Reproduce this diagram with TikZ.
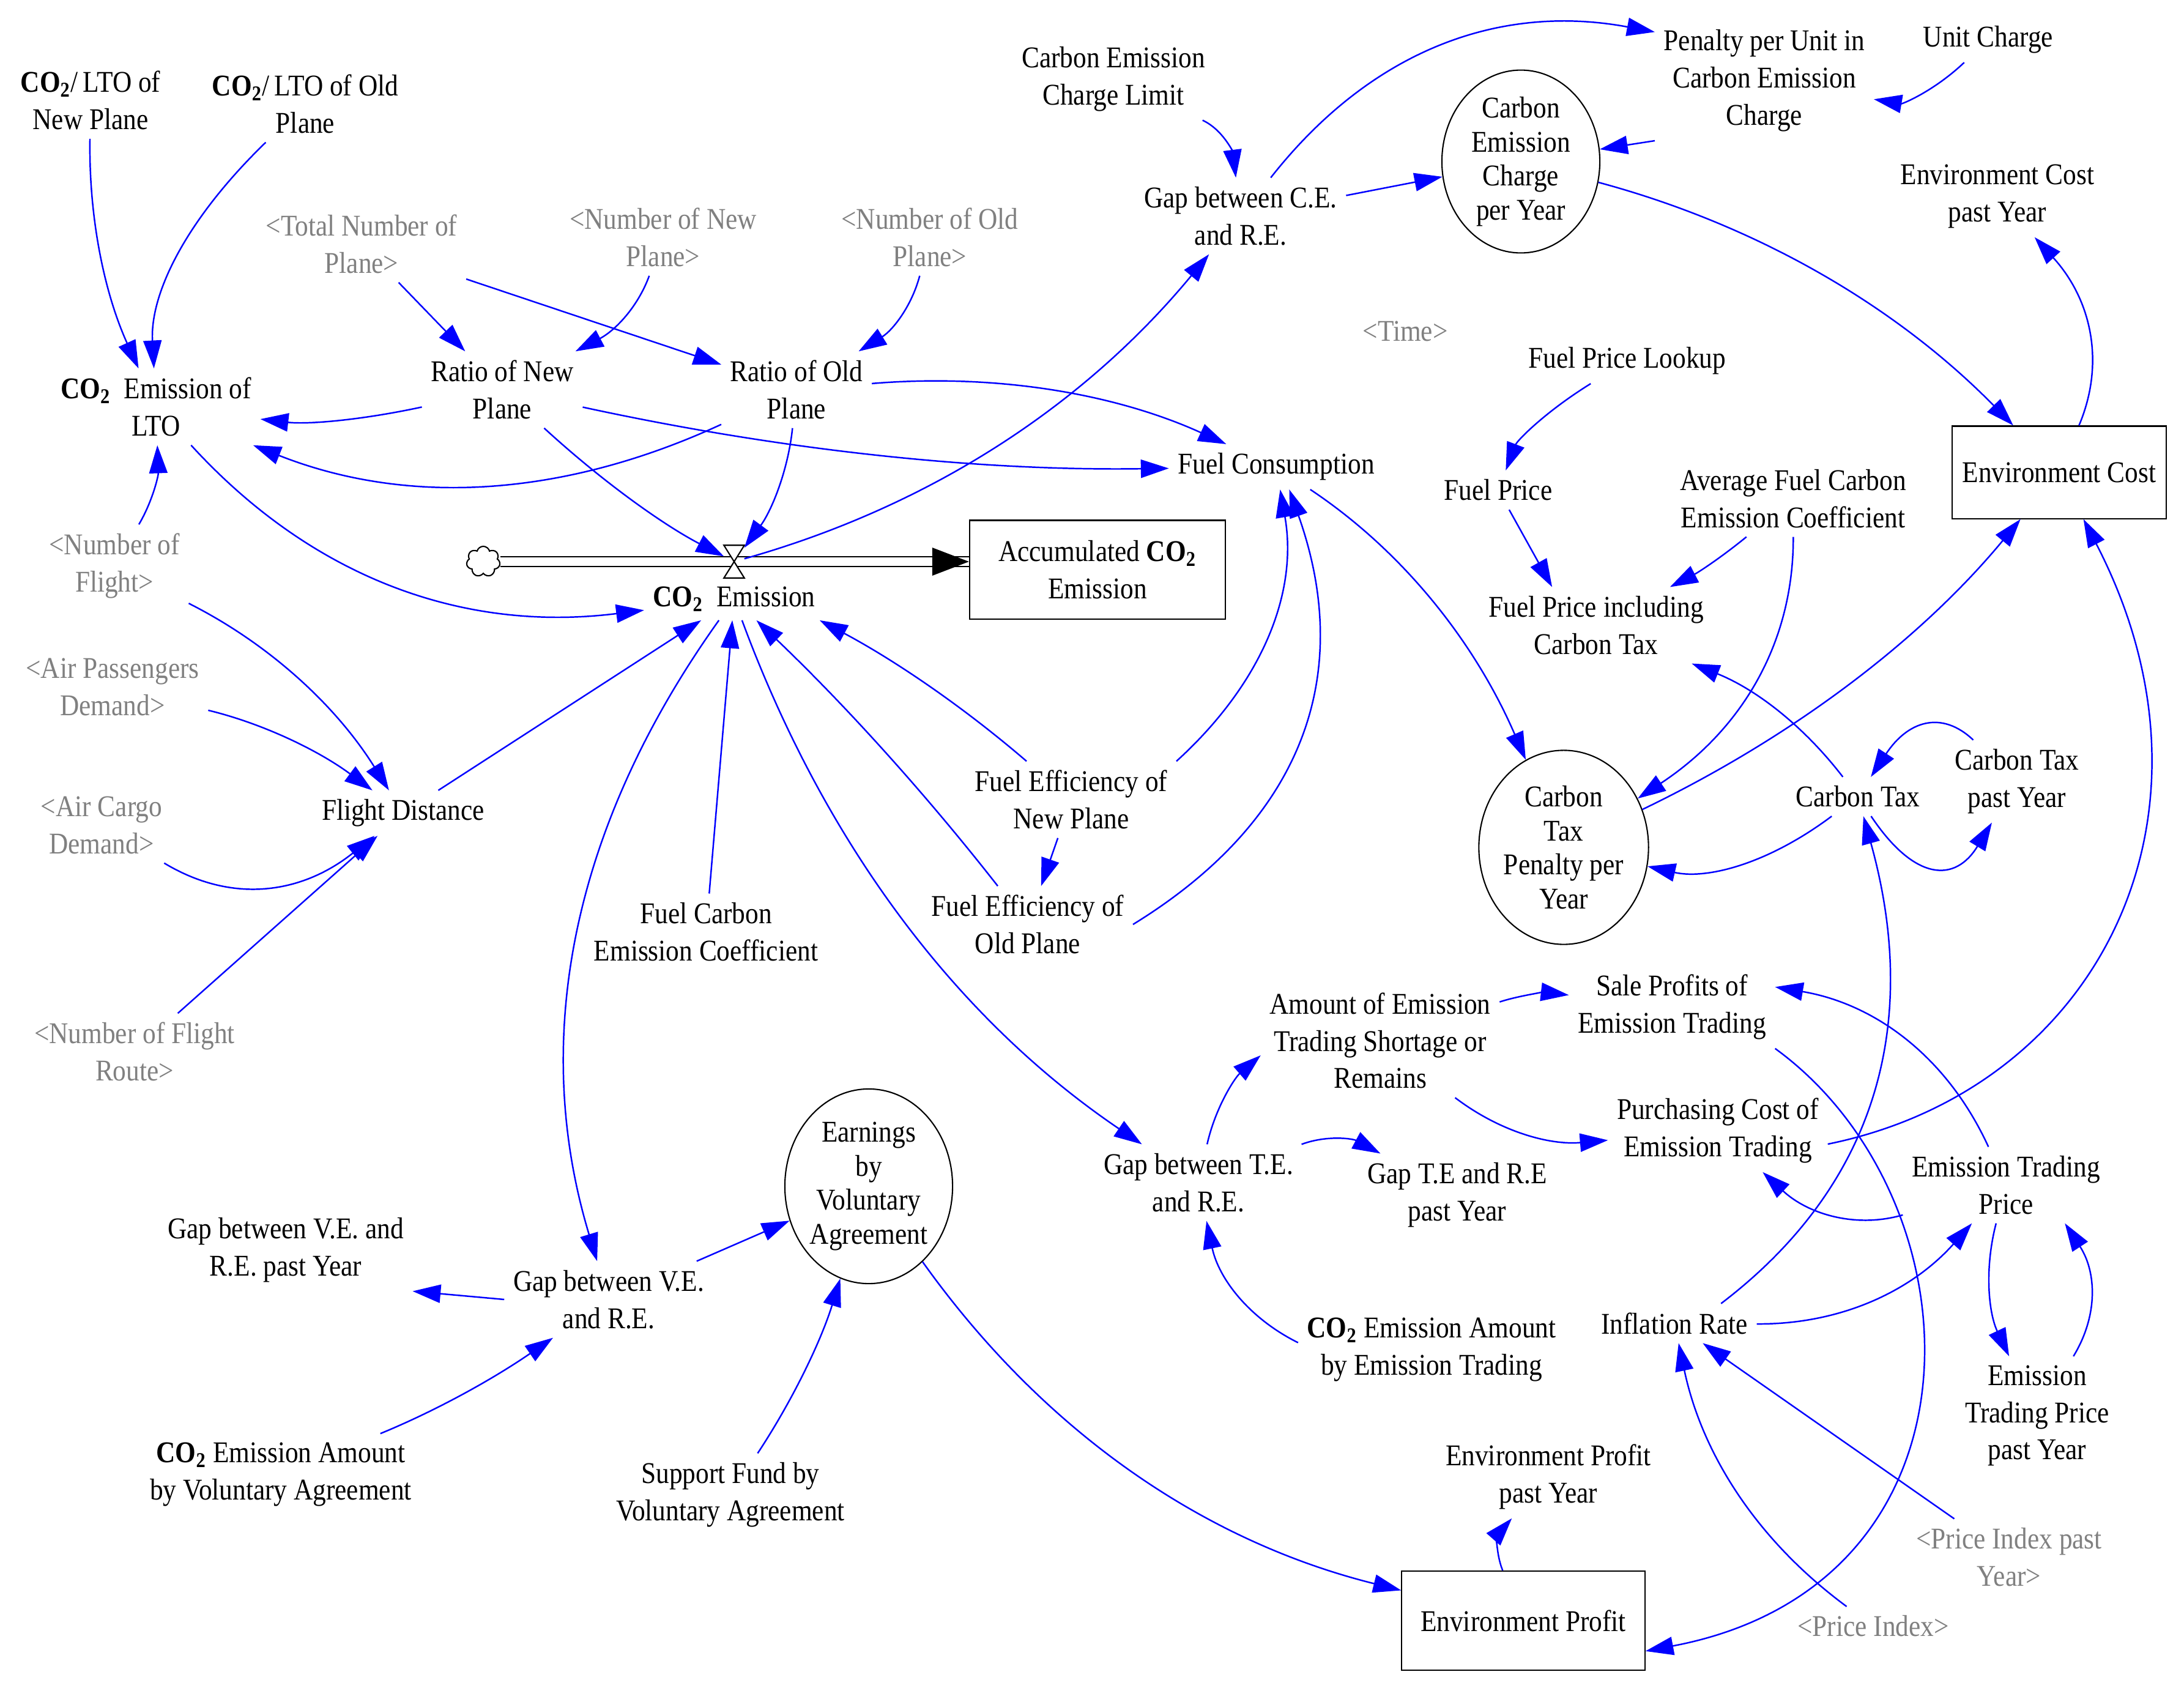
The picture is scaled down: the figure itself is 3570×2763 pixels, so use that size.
\documentclass[tikz,border=0pt]{standalone}
\usepackage{fontspec}
\setmainfont{Liberation Serif}[FakeStretch=0.88]
\usetikzlibrary{arrows.meta,shapes.geometric,shapes.symbols}
\definecolor{linkblue}{RGB}{0,0,255}
\definecolor{ghostgray}{RGB}{128,128,128}
\newcommand{\cotwo}{\textbf{CO\textsubscript{2}}}

\begin{document}
\begin{tikzpicture}[x=0.01cm, y=-0.01cm,
	var/.style={align=center, inner sep=4pt, font=\fontsize{14}{17.3}\selectfont},
	ghost/.style={var, text=ghostgray},
	stock/.style={var, draw, line width=0.6pt, inner sep=0pt},
	bubble/.style={ellipse, draw, line width=0.6pt, inner sep=0pt, align=center, font=\fontsize{14}{15.8}\selectfont},
	link/.style={linkblue, line width=0.7pt, ->},
	>={Triangle[length=13pt, width=8.5pt]}]
	\useasboundingbox (0,0) rectangle (3570,2763);

	\node[var] (co2new) at (148,164) {\cotwo/\,LTO of\\New Plane};
	\node[var] (co2old) at (499,170) {\cotwo/\,LTO of Old\\Plane};
	\node[ghost] (totplane) at (591,399) {<Total Number of\\Plane>};
	\node[ghost] (numnew) at (1084,388) {<Number of New\\Plane>};
	\node[ghost] (numold) at (1520,388) {<Number of Old\\Plane>};
	\node[var] (rationew) at (821,637) {Ratio of New\\Plane};
	\node[var] (ratioold) at (1302,637) {Ratio of Old\\Plane};
	\node[var] (co2lto) at (255,665) {\cotwo\ \ Emission of\\LTO};
	\node[ghost] (numflight) at (187,925) {<Number of\\Flight>};
	\node[ghost] (airpass) at (184,1123) {<Air Passengers\\Demand>};
	\node[ghost] (aircargo) at (166,1349) {<Air Cargo\\Demand>};
	\node[var] (flightdist) at (659,1329) {Flight Distance};
	\node[ghost] (numroute) at (220,1719) {<Number of Flight\\Route>};
	\node[var] (co2em) at (1200,979) {\cotwo\ \ Emission};
	\node[stock, minimum width=4.18cm, minimum height=1.61cm] (acc) at (1794,931) {Accumulated \cotwo\\Emission};
	\node[var] (celimit) at (1820,129) {Carbon Emission\\Charge Limit};
	\node[var] (gapce) at (2028,353) {Gap between C.E.\\and R.E.};
	\node[bubble, minimum width=2.58cm, minimum height=2.98cm] (cecharge) at (2486,264) {Carbon\\Emission\\Charge\\per Year};
	\node[var] (penalty) at (2884,132) {Penalty per Unit in\\Carbon Emission\\Charge};
	\node[var] (unitcharge) at (3250,65) {Unit Charge};
	\node[var] (envcostpast) at (3265,321) {Environment Cost\\past Year};
	\node[stock, minimum width=3.5cm, minimum height=1.51cm] (envcost) at (3366,772) {Environment Cost};
	\node[ghost] (time) at (2297,541) {<Time>};
	\node[var] (lookup) at (2660,590) {Fuel Price Lookup};
	\node[var] (fuelprice) at (2449,801) {Fuel Price};
	\node[var] (fuelcons) at (2086,763) {Fuel Consumption};
	\node[var] (avgcoef) at (2931,815) {Average Fuel Carbon\\Emission Coefficient};
	\node[var] (fuelpriceinc) at (2609,1022) {Fuel Price including\\Carbon Tax};
	\node[bubble, minimum width=2.76cm, minimum height=3.17cm] (ctpenalty) at (2556,1385) {Carbon\\Tax\\Penalty per\\Year};
	\node[var] (carbontax) at (3037,1302) {Carbon Tax};
	\node[var] (ctpast) at (3297,1277) {Carbon Tax\\past Year};
	\node[var] (fuelcarbon) at (1154,1523) {Fuel Carbon\\Emission Coefficient};
	\node[var] (effnew) at (1751,1307) {Fuel Efficiency of\\New Plane};
	\node[var] (effold) at (1680,1511) {Fuel Efficiency of\\Old Plane};
	\node[var] (amount) at (2256,1701) {Amount of Emission\\Trading Shortage or\\Remains};
	\node[var] (saleprofit) at (2733,1646) {Sale Profits of\\Emission Trading};
	\node[var] (purchasing) at (2808,1848) {Purchasing Cost of\\Emission Trading};
	\node[var] (etprice) at (3279,1937) {Emission Trading\\Price};
	\node[var] (etpast) at (3330,2314) {Emission\\Trading Price\\past Year};
	\node[var] (gapte) at (1959,1933) {Gap between T.E.\\and R.E.};
	\node[var] (gaptepast) at (2382,1953) {Gap T.E and R.E\\past Year};
	\node[var] (co2et) at (2340,2206) {\cotwo\ Emission Amount\\by Emission Trading};
	\node[var] (inflation) at (2737,2163) {Inflation Rate};
	\node[var] (envprofitpast) at (2531,2414) {Environment Profit\\past Year};
	\node[stock, minimum width=3.97cm, minimum height=1.62cm] (envprofit) at (2490,2649) {Environment Profit};
	\node[ghost] (priceidx) at (3062,2658) {<Price Index>};
	\node[ghost] (priceidxpast) at (3284,2545) {<Price Index past\\Year>};
	\node[var] (gapvepast) at (467,2043) {Gap between V.E. and\\R.E. past Year};
	\node[var] (gapve) at (995,2124) {Gap between V.E.\\and R.E.};
	\node[bubble, minimum width=2.74cm, minimum height=3.18cm] (earnings) at (1420,1939) {Earnings\\by\\Voluntary\\Agreement};
	\node[var] (co2va) at (459,2410) {\cotwo\ Emission Amount\\by Voluntary Agreement};
	\node[var] (support) at (1194,2443) {Support Fund by\\Voluntary Agreement};

	% flow into the stock
	\node[cloud, draw, cloud puffs=7, aspect=1.1, minimum width=0.55cm, minimum height=0.5cm, inner sep=0pt, line width=0.6pt] (src) at (790,918) {};
	\node[minimum width=0.32cm, minimum height=0.52cm, inner sep=0pt] (valve) at (1200,918) {};
	\draw[line width=0.6pt, double distance=4pt] (src.east) -- (src.east -| acc.west);
	\fill (src.east -| acc.west) -- ++(-60,-23) -- ++(0,46) -- cycle;
	\filldraw[fill=white, line width=0.6pt] (valve.north west) -- (valve.north east) -- (valve.south west) -- (valve.south east) -- cycle;

	\draw[link] (co2new) .. controls (145,357) and (171,480) .. (co2lto);
	\draw[link] (co2old) .. controls (305,358) and (245,479) .. (co2lto);
	\draw[link] (totplane) -- (rationew);
	\draw[link] (totplane) -- (ratioold);
	\draw[link] (numnew) .. controls (1043,501) and (1006,540) .. (rationew);
	\draw[link] (numold) .. controls (1490,501) and (1459,540) .. (ratioold);
	\draw[link] (rationew) .. controls (589,687) and (502,694) .. (co2lto);
	\draw[link] (ratioold) .. controls (918,814) and (665,827) .. (co2lto);
	\draw[link] (rationew) .. controls (1282,737) and (1601,770) .. (fuelcons);
	\draw[link] (ratioold) .. controls (1630,610) and (1824,644) .. (fuelcons);
	\draw[link] (rationew) .. controls (989,791) and (1088,860) .. (valve);
	\draw[link] (ratioold) .. controls (1288,770) and (1261,835) .. (valve);
	\draw[link] (numflight) .. controls (249,820) and (259,778) .. (co2lto);
	\draw[link] (co2lto) .. controls (512,946) and (759,1034) .. (co2em);
	\draw[link] (numflight) .. controls (443,1054) and (551,1156) .. (flightdist);
	\draw[link] (airpass) .. controls (431,1183) and (521,1227) .. (flightdist);
	\draw[link] (aircargo) .. controls (380,1478) and (493,1461) .. (flightdist);
	\draw[link] (numroute) -- (flightdist);
	\draw[link] (flightdist) -- (co2em);
	\draw[link] (valve) .. controls (1519,828) and (1771,664) .. (gapce);
	\draw[link] (celimit) .. controls (1999,212) and (2015,249) .. (gapce);
	\draw[link] (gapce) -- (cecharge);
	\draw[link] (gapce) .. controls (2241,82) and (2451,5) .. (penalty.156);
	\draw[link] (penalty.south west) -- (cecharge);
	\draw[link] (unitcharge) .. controls (3160,150) and (3109,170) .. (penalty);
	\draw[link] (cecharge) .. controls (2873,368) and (3100,501) .. (envcost);
	\draw[link] (envcost) .. controls (3442,592) and (3418,489) .. (envcostpast);
	\draw[link] (lookup) .. controls (2526,673) and (2480,720) .. (fuelprice);
	\draw[link] (fuelprice) -- (fuelpriceinc.139);
	\draw[link] (avgcoef) .. controls (2815,910) and (2777,935) .. (fuelpriceinc);
	\draw[link] (avgcoef) .. controls (2932,1051) and (2847,1193) .. (ctpenalty);
	\draw[link] (fuelcons) .. controls (2292,900) and (2410,1048) .. (ctpenalty);
	\draw[link] (ctpenalty) .. controls (2934,1203) and (3141,1044) .. (envcost);
	\draw[link] (carbontax) .. controls (2947,1185) and (2869,1126) .. (fuelpriceinc);
	\draw[link] (ctpast) .. controls (3173,1160) and (3118,1179) .. (carbontax);
	\draw[link] (carbontax) .. controls (3130,1441) and (3196,1443) .. (ctpast);
	\draw[link] (carbontax) .. controls (2890,1412) and (2790,1438) .. (ctpenalty);
	\draw[link] (inflation.23) .. controls (3065,1939) and (3141,1676) .. (carbontax);
	\draw[link] (purchasing.-7) .. controls (3431,1780) and (3656,1332) .. (envcost);
	\draw[link] (fuelcarbon) -- (co2em);
	\draw[link] (effnew) .. controls (1573,1154) and (1462,1079) .. (co2em.-14);
	\draw[link] (effold) .. controls (1511,1295) and (1381,1152) .. (co2em);
	\draw[link] (effnew) -- (effold);
	\draw[link] (effnew.north east) .. controls (2064,1116) and (2122,968) .. (fuelcons);
	\draw[link] (effold.east) .. controls (2129,1341) and (2215,1104) .. (fuelcons.-60);
	\draw[link] (co2em) .. controls (933,1353) and (867,1701) .. (gapve);
	\draw[link] (co2em) .. controls (1349,1382) and (1565,1666) .. (gapte);
	\draw[link] (gapve.west) -- (gapvepast.south east);
	\draw[link] (gapve) -- (earnings);
	\draw[link] (co2va) .. controls (710,2307) and (803,2256) .. (gapve);
	\draw[link] (support) .. controls (1298,2285) and (1343,2189) .. (earnings);
	\draw[link] (earnings) .. controls (1706,2340) and (1967,2519) .. (envprofit);
	\draw[link] (gapte) .. controls (1987,1809) and (2019,1761) .. (amount.187);
	\draw[link] (gapte) .. controls (2169,1855) and (2211,1861) .. (gaptepast);
	\draw[link] (co2et.177) .. controls (2042,2155) and (1992,2090) .. (gapte);
	\draw[link] (amount) .. controls (2484,1627) and (2526,1622) .. (saleprofit);
	\draw[link] (amount) .. controls (2452,1850) and (2533,1872) .. (purchasing);
	\draw[link] (etprice) .. controls (3183,1728) and (3066,1641) .. (saleprofit.11);
	\draw[link] (etprice) .. controls (3034,2008) and (2956,1985) .. (purchasing);
	\draw[link] (etprice) .. controls (3243,2076) and (3251,2147) .. (etpast);
	\draw[link] (etpast) .. controls (3430,2150) and (3427,2079) .. (etprice.-33);
	\draw[link] (inflation) .. controls (3006,2165) and (3123,2112) .. (etprice);
	\draw[link] (priceidx) .. controls (2871,2517) and (2782,2376) .. (inflation);
	\draw[link] (priceidxpast) -- (inflation);
	\draw[link] (saleprofit.south east) .. controls (3240,1960) and (3265,2590) .. (envprofit.-14);
	\draw[link] (envprofit) .. controls (2444,2537) and (2449,2507) .. (envprofitpast);
\end{tikzpicture}
\end{document}
